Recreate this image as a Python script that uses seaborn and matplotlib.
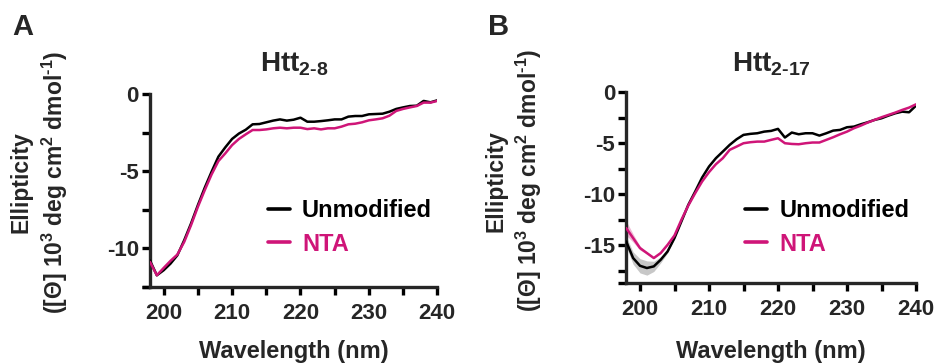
import matplotlib
matplotlib.use("Agg")
import matplotlib.pyplot as plt
import seaborn as sns
import pandas as pd

# ---------------- data ----------------
wavelength = list(range(198, 241))

a_unmodified = [-10.80, -11.76, -11.43, -11.00, -10.46, -9.48, -8.39, -7.20, -6.07, -5.03,
                -4.05, -3.45, -2.90, -2.55, -2.30, -1.95, -1.93, -1.82, -1.71, -1.63,
                -1.71, -1.65, -1.52, -1.78, -1.78, -1.74, -1.69, -1.63, -1.63, -1.45,
                -1.41, -1.41, -1.30, -1.28, -1.26, -1.13, -0.95, -0.85, -0.76, -0.74,
                -0.43, -0.52, -0.39]
a_nta = [-10.89, -11.76, -11.28, -10.82, -10.41, -9.59, -8.50, -7.31, -6.23, -5.21,
         -4.34, -3.84, -3.30, -2.90, -2.60, -2.32, -2.32, -2.28, -2.21, -2.17,
         -2.21, -2.17, -2.17, -2.26, -2.21, -2.28, -2.21, -2.21, -2.10, -1.95,
         -1.91, -1.82, -1.69, -1.63, -1.56, -1.39, -1.08, -0.95, -0.85, -0.76,
         -0.54, -0.54, -0.43]

b_unmodified = [-14.64, -16.27, -17.03, -17.25, -17.09, -16.44, -15.62, -14.31, -12.68, -11.05,
                -9.74, -8.37, -7.29, -6.47, -5.82, -5.16, -4.61, -4.18, -4.08, -4.02,
                -3.86, -3.79, -3.59, -4.44, -3.95, -4.12, -4.02, -4.02, -4.25, -4.02,
                -3.76, -3.69, -3.43, -3.37, -3.14, -2.94, -2.71, -2.55, -2.29, -2.06,
                -1.90, -1.96, -1.31]
b_nta = [-13.33, -14.31, -15.29, -15.78, -16.27, -15.78, -14.97, -14.05, -12.52, -11.11,
         -9.90, -8.76, -7.84, -7.06, -6.47, -5.65, -5.33, -5.00, -4.90, -4.84,
         -4.84, -4.67, -4.51, -5.00, -5.07, -5.10, -5.00, -4.93, -4.93, -4.67,
         -4.41, -4.12, -3.86, -3.53, -3.27, -2.97, -2.71, -2.45, -2.22, -1.99,
         -1.73, -1.50, -1.18]

# error band (SD) for panel B, where it is visible (198-205 nm)
b_sd_wavelength = [198, 199, 200, 201, 202, 203, 204, 205]
b_unmodified_sd = [0.50, 0.60, 0.70, 0.70, 0.50, 0.30, 0.15, 0.05]
b_nta_sd = [0.70, 0.40, 0.20, 0.10, 0.05, 0.05, 0.05, 0.05]

series_names = ["Unmodified", "NTA"]
panel_titles = [r"Htt$_{2\text{-}8}$", r"Htt$_{2\text{-}17}$"]
panel_letters = ["A", "B"]
x_ticks = [200, 210, 220, 230, 240]
a_y_ticks = [0, -5, -10]
b_y_ticks = [0, -5, -10, -15]
x_label = "Wavelength (nm)"
y_label = "Ellipticity\n([\u0398] 10$^{3}$ deg cm$^{2}$ dmol$^{\\text{-}1}$)"

# ---------------- style ----------------
sns.set_style("ticks")
FONT = "Liberation Sans"
plt.rcParams["font.family"] = [FONT, "DejaVu Sans"]
plt.rcParams["font.weight"] = "bold"
plt.rcParams["mathtext.fontset"] = "custom"
plt.rcParams["mathtext.rm"] = FONT + ":bold"
plt.rcParams["mathtext.it"] = FONT + ":bold"
plt.rcParams["mathtext.bf"] = FONT + ":bold"
plt.rcParams["mathtext.default"] = "rm"

BLACK = "#000000"
MAGENTA = "#CF1578"
palette = {"Unmodified": BLACK, "NTA": MAGENTA}

fig = plt.figure(figsize=(9.36, 3.64), dpi=100)
W, H = 936, 364

def px_axes(left, right, top, bottom):
    return fig.add_axes([left / W, 1 - bottom / H, (right - left) / W, (bottom - top) / H])

axA = px_axes(150.0, 437.3, 94.3, 286.7)
axB = px_axes(626.2, 916.0, 92.3, 283.3)

def make_df(unmod, nta):
    return pd.DataFrame({
        "wavelength": wavelength * 2,
        "value": unmod + nta,
        "series": [series_names[0]] * len(wavelength) + [series_names[1]] * len(wavelength),
    })

dfA = make_df(a_unmodified, a_nta)
dfB = make_df(b_unmodified, b_nta)

# bands (panel B)
n_sd = len(b_sd_wavelength)
lowU = [m - s for m, s in zip(b_unmodified[:n_sd], b_unmodified_sd)]
highU = [m + s for m, s in zip(b_unmodified[:n_sd], b_unmodified_sd)]
lowN = [m - s for m, s in zip(b_nta[:n_sd], b_nta_sd)]
highN = [m + s for m, s in zip(b_nta[:n_sd], b_nta_sd)]
axB.fill_between(b_sd_wavelength, lowU, highU, color="#b0b0b0", alpha=0.7, lw=0, zorder=1)
axB.fill_between(b_sd_wavelength, lowN, highN, color="#e48ab8", alpha=0.6, lw=0, zorder=1)

for ax, df in [(axA, dfA), (axB, dfB)]:
    sns.lineplot(data=df, x="wavelength", y="value", hue="series", hue_order=series_names,
                 palette=palette, linewidth=1.8, ax=ax, legend=False, zorder=3)

LW = 2.4
for ax, ylim, yt in [(axA, (-12.5, 0), a_y_ticks), (axB, (-18.75, 0), b_y_ticks)]:
    ax.set_xlim(198, 240)
    ax.set_ylim(*ylim)
    ax.set_xticks(x_ticks)
    ax.set_xticks([205, 215, 225, 235], minor=True)
    ax.set_yticks(yt)
    minor = [v - 2.5 for v in yt] + [ylim[0]]
    ax.set_yticks([m for m in minor if m >= ylim[0] - 1e-6], minor=True)
    ax.set_yticklabels([("%d" % v) for v in yt])
    ax.set_xticklabels([str(v) for v in x_ticks])
    for s in ["top", "right"]:
        ax.spines[s].set_visible(False)
    for s in ["left", "bottom"]:
        ax.spines[s].set_linewidth(LW)
        ax.spines[s].set_capstyle("projecting")
    ax.tick_params(axis="both", which="both", direction="out", length=5.5, width=LW,
                   color="black", labelsize=16, pad=2.5)
    ax.tick_params(axis="x", which="both", pad=6)
    for lab in ax.get_xticklabels() + ax.get_yticklabels():
        lab.set_fontweight("bold")
    ax.set_xlabel(x_label, fontsize=17, fontweight="bold")
    ax.set_ylabel(y_label, fontsize=16.5, fontweight="bold", linespacing=1.3)
    ax.grid(False)
    handles = [plt.Line2D([], [], color=palette[n], lw=2.6) for n in series_names]
    leg = ax.legend(handles, series_names, frameon=False, fontsize=17,
                    handlelength=0.95, handletextpad=0.5, labelspacing=0.45,
                    borderpad=0, borderaxespad=0, loc="upper left",
                    bbox_to_anchor=(0.41, 0.456 if ax is axA else 0.441))
    for t, n in zip(leg.get_texts(), series_names):
        t.set_color(palette[n])
        t.set_fontweight("bold")

axA.yaxis.set_label_coords(-0.279, 0.544)
axB.yaxis.set_label_coords(-0.282, 0.536)
axA.xaxis.set_label_coords(0.5, -0.277)
axB.xaxis.set_label_coords(0.5, -0.297)

# titles and panel letters
fig.text(294 / W, 1 - 72 / H, panel_titles[0], ha="center", va="baseline", fontsize=20, fontweight="bold")
fig.text(771 / W, 1 - 72 / H, panel_titles[1], ha="center", va="baseline", fontsize=20, fontweight="bold")
fig.text(12 / W, 1 - 35 / H, panel_letters[0], ha="left", va="baseline", fontsize=21, fontweight="bold")
fig.text(488 / W, 1 - 35 / H, panel_letters[1], ha="left", va="baseline", fontsize=21, fontweight="bold")

fig.savefig("out.png", dpi=100)
